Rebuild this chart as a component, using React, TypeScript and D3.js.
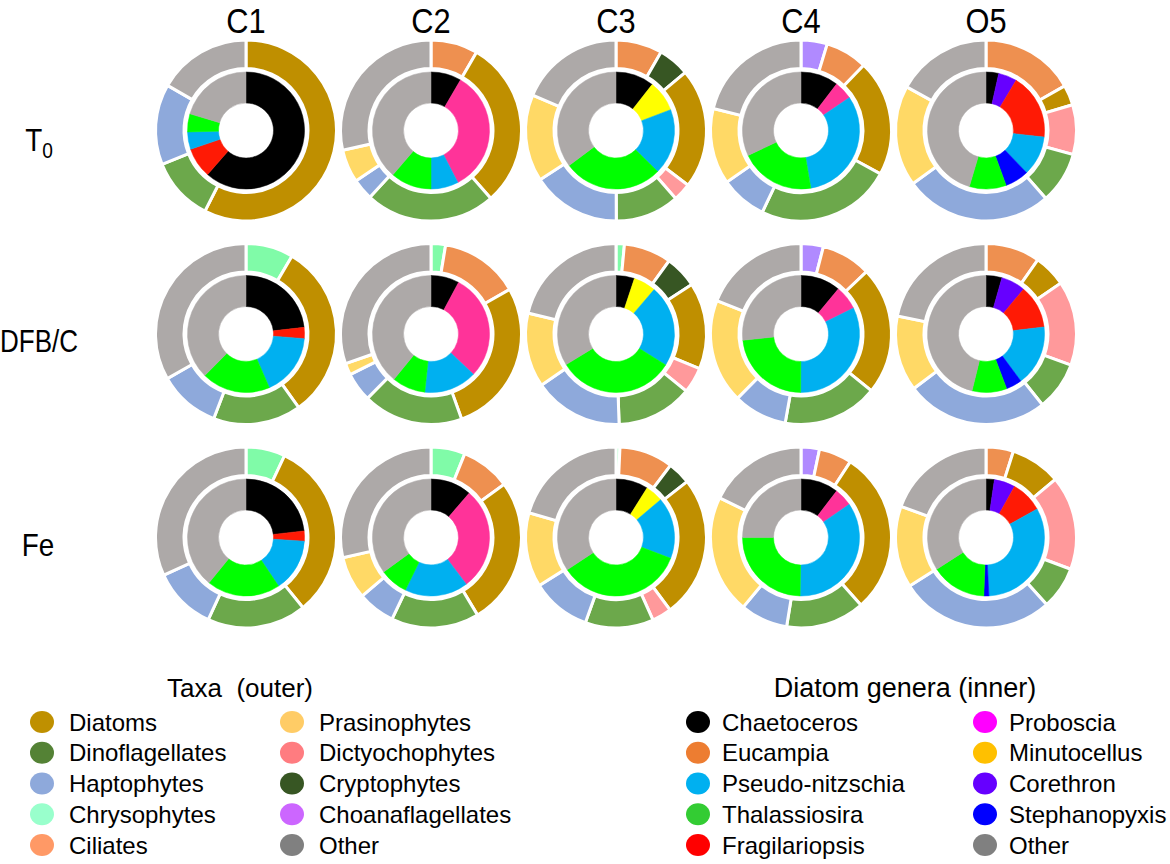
import React from 'react';
import * as d3 from 'd3';

// ---------- data ----------
const columns = ['C1', 'C2', 'C3', 'C4', 'O5'];
const rows = ['T0', 'DFB/C', 'Fe'];

// outer ring categories (drawing order, clockwise from 12 o'clock)
const taxa = ['Choanaflagellates', 'Chrysophytes', 'Ciliates', 'Cryptophytes', 'Diatoms',
  'Dictyochophytes', 'Dinoflagellates', 'Haptophytes', 'Prasinophytes', 'Other'];
// inner ring categories
const genera = ['Chaetoceros', 'Corethron', 'Eucampia', 'Fragilariopsis', 'Minutocellus',
  'Proboscia', 'Pseudo-nitzschia', 'Stephanopyxis', 'Thalassiosira', 'Other'];

// % per taxon, one array per column (C1..O5)
const taxaT0 = [
  [0, 0, 0, 0, 57.5, 0, 11.4, 14.4, 0, 16.7],
  [0, 0, 8.4, 0, 30.1, 0, 23.3, 3.8, 5.9, 28.5],
  [0, 0, 8.3, 5.6, 21.4, 3.2, 11.4, 15.9, 15.5, 18.6],
  [4.7, 0, 7.5, 0, 20.8, 0, 24.1, 8.3, 13.6, 21.1],
  [0, 0, 16.8, 0, 3.6, 8.9, 9.2, 26.5, 18, 17],
];
const taxaDFBC = [
  [0, 8.5, 0, 0, 31.6, 0, 15.7, 11, 0, 33.2],
  [0, 2.6, 14.2, 0, 27.7, 0, 17.9, 5.2, 2.1, 30.3],
  [0, 1.5, 8.5, 5.8, 15.5, 4.6, 13.6, 16, 13.3, 21.3],
  [4, 0, 8.9, 0, 22.9, 0, 17, 9.6, 18.6, 19],
  [0, 0, 9.7, 0, 5.8, 15.1, 8.7, 25.4, 13.5, 21.8],
];
const taxaFe = [
  [0, 7, 0, 0, 32.1, 0, 17.7, 11.3, 0, 31.8],
  [0, 6.1, 8.9, 0, 26.4, 0, 15.7, 6.7, 7.6, 28.6],
  [0, 0.7, 9.6, 4.1, 25.4, 3.5, 12.2, 10.6, 13.3, 20.6],
  [3.3, 0, 5.9, 0, 29.3, 0, 14.1, 8.5, 21.2, 17.8],
  [0, 0, 4.9, 0, 9, 16.8, 7.6, 27.7, 14.6, 19.4],
];

// % per diatom genus, one array per column (C1..O5)
const generaT0 = [
  [61.4, 0, 0, 8.4, 0, 0, 4.8, 0, 5, 20.4],
  [8.4, 0, 0, 0, 0, 34, 7.6, 0, 11.3, 38.7],
  [10.6, 0, 0, 0, 8.6, 0, 18.2, 0, 27.4, 35.2],
  [10.4, 0, 0, 0, 0, 5.1, 31.8, 0, 20.7, 32],
  [3.5, 5.1, 0, 18.2, 0, 0, 11, 6.6, 10.2, 45.4],
];
const generaDFBC = [
  [23.2, 0, 0, 3.1, 0, 0, 17.2, 0, 19, 37.6],
  [7.8, 0, 0, 0, 0, 29.3, 14.6, 0, 9.2, 39.1],
  [5.1, 0, 0, 0, 6.2, 0, 22.6, 0, 32.4, 33.8],
  [11, 0, 0, 0, 0, 6.7, 32.4, 0, 23.2, 26.7],
  [4.4, 6.7, 0, 12, 0, 0, 16.8, 4.4, 9.6, 46.2],
];
const generaFe = [
  [23.2, 0, 0, 2.8, 0, 0, 14.6, 0, 20.3, 39.1],
  [11.3, 0, 0, 0, 0, 28.4, 17.5, 0, 7.8, 35],
  [8.9, 0, 0, 0, 4.9, 0, 17, 0, 34.9, 34.3],
  [10.4, 0, 0, 0, 0, 5, 34.8, 0, 24.7, 25],
  [2.3, 5.8, 0, 8.8, 0, 0, 32.3, 1.4, 15.3, 34.1],
];

const outerByRow = [taxaT0, taxaDFBC, taxaFe];
const innerByRow = [generaT0, generaDFBC, generaFe];

// legend orders
const taxaLegend = ['Diatoms', 'Dinoflagellates', 'Haptophytes', 'Chrysophytes', 'Ciliates',
  'Prasinophytes', 'Dictyochophytes', 'Cryptophytes', 'Choanaflagellates', 'Other'];
const generaLegend = ['Chaetoceros', 'Eucampia', 'Pseudo-nitzschia', 'Thalassiosira', 'Fragilariopsis',
  'Proboscia', 'Minutocellus', 'Corethron', 'Stephanopyxis', 'Other'];

// ---------- styles ----------
const taxaColor: Record<string, string> = {
  Choanaflagellates: '#B08AFF', Chrysophytes: '#80FBA8', Ciliates: '#EE9050', Cryptophytes: '#375623',
  Diatoms: '#BF8F00', Dictyochophytes: '#FF999B', Dinoflagellates: '#6CA84B', Haptophytes: '#8EA9DB',
  Prasinophytes: '#FFD966', Other: '#ADA9A8',
};
const taxaLegendColor: Record<string, string> = {
  Diatoms: '#BF9000', Dinoflagellates: '#548235', Haptophytes: '#8EA9DB', Chrysophytes: '#99FFCC',
  Ciliates: '#FF9966', Prasinophytes: '#FFCC66', Dictyochophytes: '#FF7C80', Cryptophytes: '#375623',
  Choanaflagellates: '#CC66FF', Other: '#808080',
};
const generaColor: Record<string, string> = {
  Chaetoceros: '#000000', Corethron: '#6600FF', Eucampia: '#ED7D31', Fragilariopsis: '#FF1A05',
  Minutocellus: '#FFFF00', Proboscia: '#FF3399', 'Pseudo-nitzschia': '#00B0F0', Stephanopyxis: '#0000FF',
  Thalassiosira: '#00FF00', Other: '#ADA9A8',
};
const generaLegendColor: Record<string, string> = {
  Chaetoceros: '#000000', Eucampia: '#ED7D31', 'Pseudo-nitzschia': '#00B0F0', Thalassiosira: '#33CC33',
  Fragilariopsis: '#FF0000', Proboscia: '#FF00FF', Minutocellus: '#FFC000', Corethron: '#6600FF',
  Stephanopyxis: '#0000FF', Other: '#808080',
};

const FONT = '"Liberation Sans", Arial, sans-serif';
const W = 1170;
const H = 864;

export default function App() {
  const x = d3.scalePoint<string>().domain(columns).range([246, 986]);
  const y = d3.scalePoint<string>().domain(rows).range([130.5, 537.5]);

  const pie = d3.pie<number>().sort(null).value((d) => d).startAngle(0).endAngle(2 * Math.PI);
  const outerArc = d3.arc<d3.PieArcDatum<number>>().innerRadius(62).outerRadius(90.5);
  const innerArc = d3.arc<d3.PieArcDatum<number>>().innerRadius(27.5).outerRadius(58.5);

  const legendY = d3.scalePoint<number>().domain([0, 1, 2, 3, 4]).range([722, 845]);

  return (
    <svg width={W} height={H} style={{ position: 'absolute', left: 0, top: 0, background: '#fff' }}
      fontFamily={FONT}>
      <rect width={W} height={H} fill="#fff" />
      {columns.map((c) => (
        <text key={c} transform={`translate(${x(c)},33) scale(0.88,1)`} textAnchor="middle"
          fontSize={35} fill="#000">{c}</text>
      ))}
      <text transform="translate(39,151) scale(0.87,1)" textAnchor="middle" fontSize={32} fill="#000">
        T<tspan fontSize={22} dy={7}>0</tspan>
      </text>
      <text transform="translate(39,352) scale(0.84,1)" textAnchor="middle" fontSize={31} fill="#000">DFB/C</text>
      <text transform="translate(38,556) scale(0.87,1)" textAnchor="middle" fontSize={32} fill="#000">Fe</text>

      {rows.map((r, ri) =>
        columns.map((c, ci) => {
          const outer = pie(outerByRow[ri][ci]);
          const inner = pie(innerByRow[ri][ci]);
          return (
            <g key={r + c} transform={`translate(${x(c)},${y(r)})`}>
              {outer.filter((d) => d.value > 0).map((d) => (
                <path key={'o' + d.index} d={outerArc(d) || ''} fill={taxaColor[taxa[d.index]]}
                  stroke="#fff" strokeWidth={3} strokeLinejoin="miter" />
              ))}
              {inner.filter((d) => d.value > 0).map((d) => (
                <path key={'i' + d.index} d={innerArc(d) || ''} fill={generaColor[genera[d.index]]}
                  stroke={generaColor[genera[d.index]]} strokeWidth={0.5} />
              ))}
            </g>
          );
        })
      )}

      {/* Taxa legend */}
      <text x={240} y={697} textAnchor="middle" fontSize={26} fill="#000" xmlSpace="preserve">Taxa  (outer)</text>
      {taxaLegend.map((t, i) => {
        const col = Math.floor(i / 5);
        const cx = col === 0 ? 42 : 292;
        const cy = legendY(i % 5) as number;
        return (
          <g key={t}>
            <ellipse cx={cx} cy={cy} rx={12} ry={11} fill={taxaLegendColor[t]} />
            <text x={cx + 27} y={cy + 8.5} fontSize={24} fill="#000">{t}</text>
          </g>
        );
      })}

      {/* Genera legend */}
      <text x={905} y={697} textAnchor="middle" fontSize={27} fill="#000">Diatom genera (inner)</text>
      {generaLegend.map((t, i) => {
        const col = Math.floor(i / 5);
        const cx = col === 0 ? 698 : 985;
        const cy = legendY(i % 5) as number;
        return (
          <g key={t}>
            <ellipse cx={cx} cy={cy} rx={12} ry={11} fill={generaLegendColor[t]} />
            <text x={cx + 24} y={cy + 8.5} fontSize={24} fill="#000">{t}</text>
          </g>
        );
      })}
    </svg>
  );
}
